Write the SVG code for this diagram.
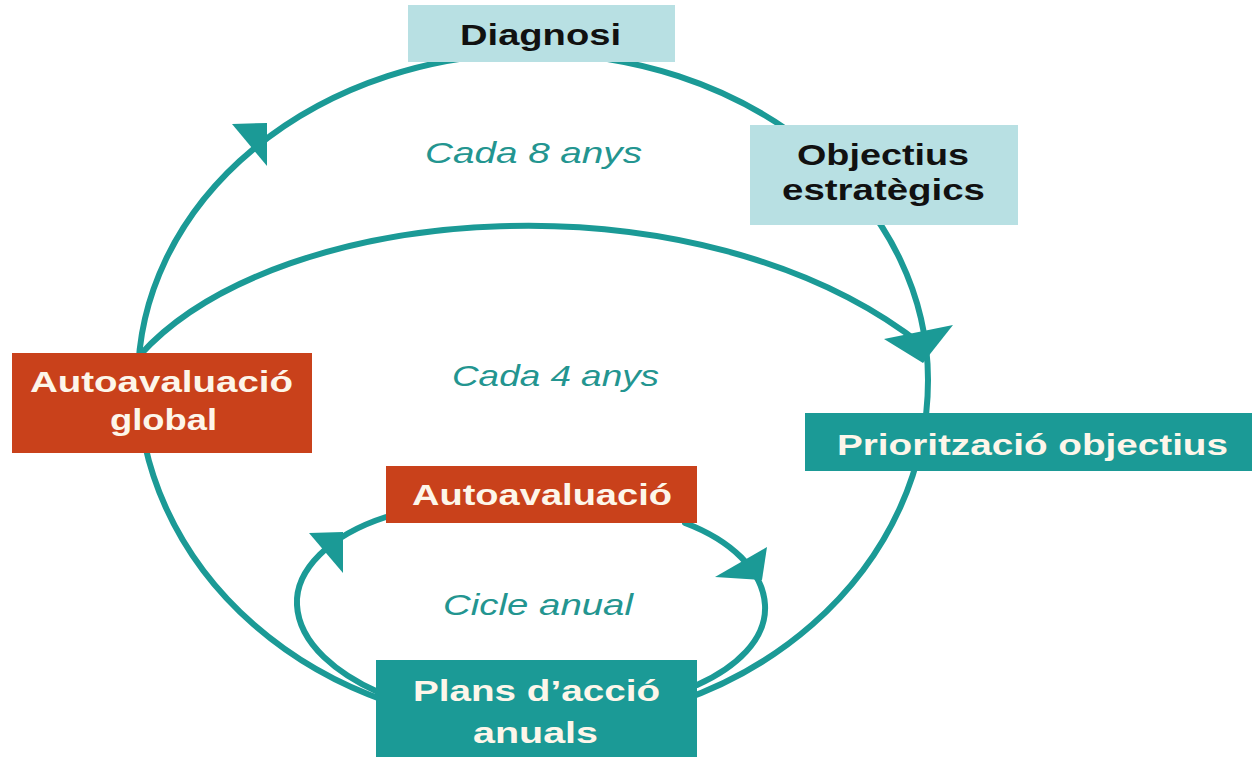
<svg xmlns="http://www.w3.org/2000/svg" width="1252" height="757" viewBox="0 0 1252 757">
<style>
.ln{fill:none;stroke:#1b9a96;stroke-width:6;stroke-linecap:round}
.ah{fill:#1b9a96;stroke:none}
.lb{fill:#b8e0e3}
.rd{fill:#c9411b}
.tl{fill:#1b9a96}
.bt{font-family:"Liberation Sans",Arial,sans-serif;font-weight:bold;font-size:30px}
.dk{fill:#111}
.wt{fill:#fdf6ea}
.it{font-family:"Liberation Sans",Arial,sans-serif;font-style:italic;font-size:29px;fill:#239590}
</style>
<rect width="1252" height="757" fill="#ffffff"/>
<g id="connectors">
<path class="ln" d="M 138,380 A 394 326 0 0 1 928,380 A 394 345 0 0 1 138,380 Z"/>
<path class="ln" d="M 140,355 C 280,200 700,170 922,345"/>
<path class="ln" d="M 386,517 C 330,535 295,570 297,605 C 299,645 340,675 378,692"/>
<path class="ln" d="M 685,523 C 730,540 763,570 765,605 C 767,640 735,668 697,685"/>
<polygon class="ah" points="232,124 267,123 267,166"/>
<polygon class="ah" points="884,339 953,325 923,363"/>
<polygon class="ah" points="309,533 343,532 343,573"/>
<polygon class="ah" points="715,577 767,547 762,580"/>
</g>
<g id="node-diagnosi">
<rect class="lb" x="408" y="5" width="267" height="57"/>
<text class="bt dk" x="460" y="45" textLength="161" lengthAdjust="spacingAndGlyphs">Diagnosi</text>
</g>
<g id="node-objectius">
<rect class="lb" x="750" y="125" width="268" height="100"/>
<text class="bt dk" x="797" y="165" textLength="172" lengthAdjust="spacingAndGlyphs">Objectius</text>
<text class="bt dk" x="782" y="200" textLength="203" lengthAdjust="spacingAndGlyphs">estratègics</text>
</g>
<g id="node-autoavaluacio-global">
<rect class="rd" x="12" y="353" width="300" height="100"/>
<text class="bt wt" x="30" y="392" textLength="263" lengthAdjust="spacingAndGlyphs">Autoavaluació</text>
<text class="bt wt" x="110" y="430" textLength="107" lengthAdjust="spacingAndGlyphs">global</text>
</g>
<g id="node-prioritzacio">
<rect class="tl" x="805" y="413" width="447" height="58"/>
<text class="bt wt" x="837" y="455" textLength="391" lengthAdjust="spacingAndGlyphs">Priorització objectius</text>
</g>
<g id="node-autoavaluacio">
<rect class="rd" x="386" y="466" width="311" height="57"/>
<text class="bt wt" x="412" y="505" textLength="260" lengthAdjust="spacingAndGlyphs">Autoavaluació</text>
</g>
<g id="node-plans">
<rect class="tl" x="376" y="660" width="321" height="97"/>
<text class="bt wt" x="413" y="701" textLength="247" lengthAdjust="spacingAndGlyphs">Plans d’acció</text>
<text class="bt wt" x="473" y="743" textLength="125" lengthAdjust="spacingAndGlyphs">anuals</text>
</g>
<g id="labels">
<text class="it" x="425" y="163" textLength="217" lengthAdjust="spacingAndGlyphs">Cada 8 anys</text>
<text class="it" x="452" y="386" textLength="207" lengthAdjust="spacingAndGlyphs">Cada 4 anys</text>
<text class="it" x="443" y="615" textLength="190" lengthAdjust="spacingAndGlyphs">Cicle anual</text>
</g>
</svg>
